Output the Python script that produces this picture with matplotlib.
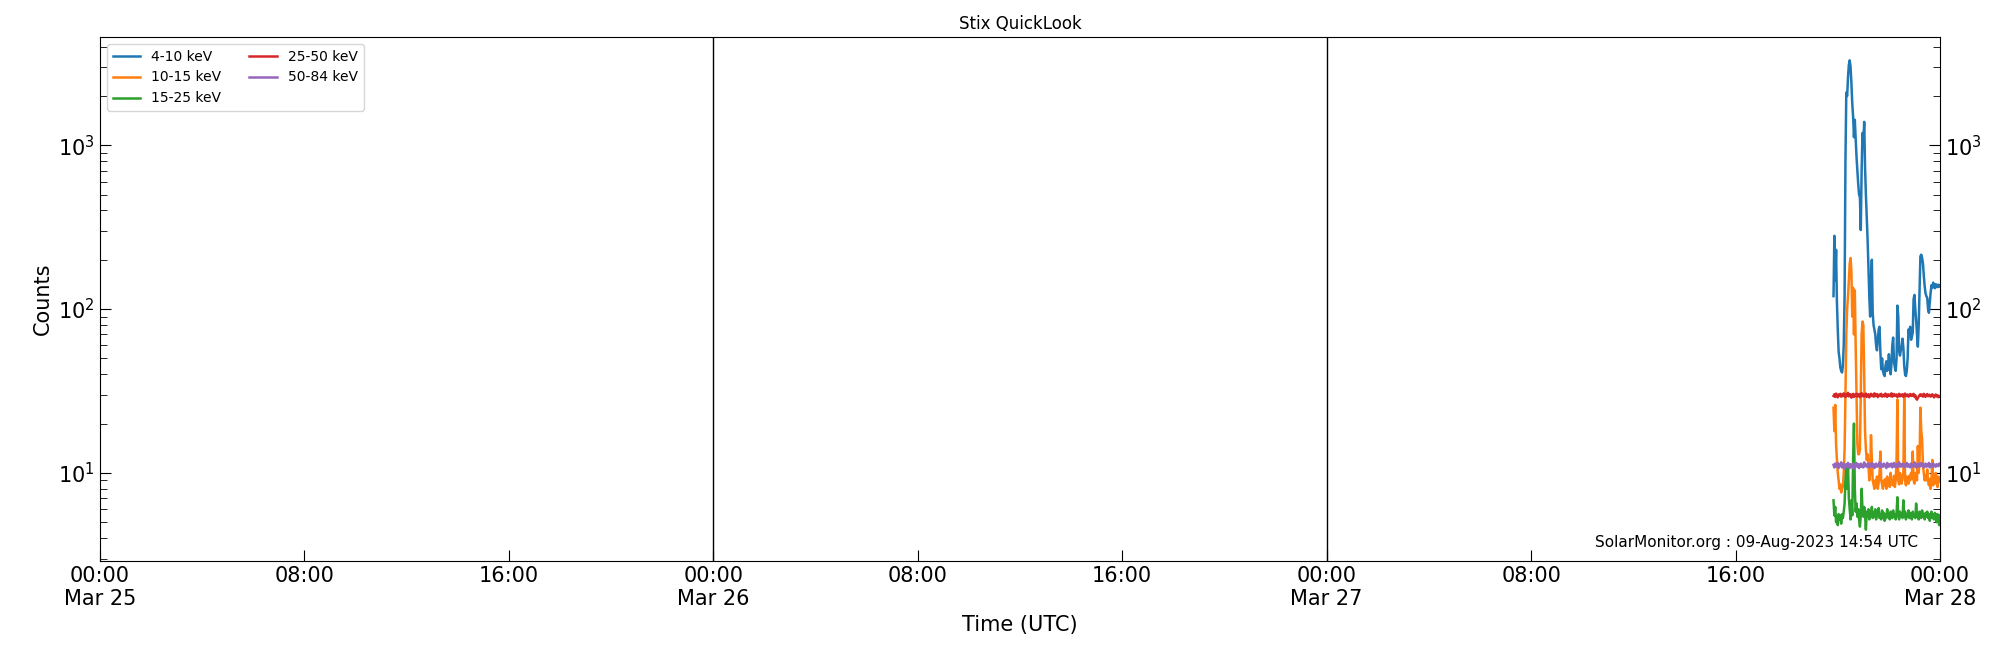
import numpy as np
import pandas as pd
import matplotlib
matplotlib.use("Agg")
import matplotlib.pyplot as plt
import matplotlib.dates as mdates

# samples every 2 min starting 2023-03-27 19:50 UTC
start_time = "2023-03-27 19:50"
step_minutes = 2

counts_4_10 = [
    120, 280, 150, 230, 110, 75, 55, 50, 44, 42,
    41, 45, 60, 120, 800, 2100, 2000, 2600, 3100, 3300,
    3000, 2400, 1800, 1500, 1120, 1430, 1100, 850, 700, 580,
    500, 480, 304, 700, 1190, 1000, 1390, 740, 500, 365,
    265, 180, 120, 90, 150, 200, 95, 80, 75, 70,
    60, 56, 65, 75, 78, 55, 43, 50, 42, 40,
    39, 45, 48, 42, 45, 53, 44, 40, 46, 60,
    67, 48, 44, 42, 50, 105, 90, 55, 52, 56,
    60, 66, 58, 45, 40, 39, 42, 50, 75, 70,
    78, 65, 68, 72, 115, 122, 100, 85, 70, 59,
    80, 130, 210, 215, 205, 190, 160, 138, 125, 120,
    117, 100, 95, 110, 126, 140, 135, 145, 138, 134,
    142, 140, 136, 141, 137, 139,
]

counts_10_15 = [
    25, 18, 26, 15, 12, 10, 9, 8, 8.5, 7.6,
    8, 8.2, 10, 14, 30, 70, 100, 120, 150, 190,
    205, 170, 90, 135, 70, 130, 60, 30, 15, 13,
    13, 14, 30, 70, 84, 80, 40, 18, 14, 12,
    13, 11, 9, 10, 17, 12, 9, 8.5, 8, 9,
    8.2, 9.5, 8, 8.8, 10, 13.5, 9, 8.5, 8, 9,
    8.4, 9.2, 8, 9.5, 8.6, 9, 8.2, 10, 8.5, 9,
    8.4, 9.6, 8.2, 9, 12, 28, 9, 8.5, 10, 9,
    8.6, 9.4, 10, 29, 9, 8.4, 9.5, 9, 8.6, 9.6,
    9, 10, 9.2, 13.5, 9, 8.6, 10, 9.4, 9, 14.6,
    10, 12, 25, 18, 16, 11, 10, 9, 9.6, 9,
    10.5, 9, 8.4, 9.2, 8, 9, 12, 8.4, 9.4, 8.6,
    10, 9, 8.2, 9.5, 8.8, 9.2,
]

counts_15_25 = [
    6.8, 5.5, 6.2, 5.0, 5.4, 4.8, 5.6, 5.2, 5.5, 4.9,
    5.6, 5.3, 5.8, 6.5, 9, 10.5, 8, 11, 7, 6,
    5.2, 6.8, 5.5, 12, 20, 8, 5.8, 6.5, 5.4, 6,
    5.2, 4.7, 5.5, 8, 6, 5.4, 6.2, 5.6, 4.5, 5.8,
    5.4, 6, 5.2, 5.8, 5.5, 6.2, 5.3, 5.7, 5.4, 6,
    5.2, 5.8, 5.5, 6.1, 5.3, 5.6, 5.2, 5.9, 5.4, 5.7,
    5.1, 5.6, 5.3, 6, 5.4, 5.6, 5.2, 5.8, 5.5, 5.3,
    5.9, 5.4, 5.6, 5.2, 5.7, 7.1, 5.5, 5.2, 5.8, 5.4,
    5.6, 5.3, 6.8, 5.4, 5.8, 5.2, 5.6, 5.4, 5.9, 5.3,
    5.7, 5.5, 5.2, 5.8, 5.4, 5.6, 5.3, 6.5, 5.4, 5.7,
    5.2, 5.8, 5.5, 5.3, 5.9, 5.4, 5.6, 5.2, 5.7, 5.4,
    5.8, 5.3, 5.6, 5.1, 5.5, 5.8, 5.3, 5.6, 5.2, 5.7,
    5.4, 5.0, 5.6, 5.3, 4.8, 5.5,
]

counts_25_50 = [
    29.5, 30.2, 29.1, 30.5, 29.8, 28.9, 30.1, 29.6, 30.4, 29.2,
    30.0, 29.4, 30.6, 29.7, 29.0, 30.3, 29.5, 30.8, 29.3, 29.9,
    30.2, 28.8, 29.7, 30.4, 29.1, 30.0, 29.6, 30.5, 29.2, 29.8,
    30.3, 29.0, 29.6, 30.7, 29.4, 30.1, 29.3, 29.9, 30.5, 29.1,
    29.7, 30.2, 28.9, 29.8, 30.4, 29.5, 30.0, 29.2, 30.6, 29.4,
    29.9, 30.3, 29.0, 29.7, 30.1, 29.5, 30.4, 29.2, 29.8, 30.0,
    29.3, 30.5, 29.6, 29.1, 30.2, 29.7, 30.0, 29.4, 30.6, 29.2,
    29.9, 30.3, 29.5, 29.8, 30.1, 29.0, 29.6, 30.4, 29.3, 30.0,
    29.7, 30.2, 29.1, 29.9, 30.5, 29.4, 29.8, 30.1, 29.2, 29.7,
    30.3, 29.5, 30.0, 29.6, 30.4, 29.1, 29.8, 28.4, 28.0, 28.6,
    29.3, 29.8, 30.2, 29.5, 30.0, 29.2, 30.4, 29.7, 29.1, 29.9,
    30.3, 29.4, 29.8, 30.0, 29.2, 29.6, 30.2, 29.5, 28.9, 29.7,
    30.1, 29.3, 29.8, 29.0, 29.5, 29.2,
]

counts_50_84 = [
    11.2, 10.8, 11.4, 10.9, 11.1, 11.5, 10.7, 11.3, 11.0, 11.6,
    10.8, 11.2, 11.4, 10.6, 11.1, 11.3, 10.9, 11.5, 11.0, 10.7,
    11.3, 11.1, 10.8, 11.4, 10.6, 11.2, 11.0, 11.5, 10.9, 11.3,
    10.7, 11.1, 11.4, 10.9, 11.2, 10.8, 11.6, 11.0, 11.3, 10.9,
    11.1, 11.4, 10.8, 11.2, 11.0, 11.5, 10.9, 11.3, 10.7, 11.1,
    11.4, 10.9, 11.2, 11.0, 11.6, 10.8, 11.3, 11.1, 10.9, 11.4,
    11.0, 11.2, 10.7, 11.5, 11.1, 10.9, 11.3, 11.0, 11.4, 10.8,
    11.2, 11.5, 10.9, 11.1, 11.3, 10.8, 11.2, 11.6, 11.0, 10.9,
    11.3, 11.1, 11.4, 10.8, 11.2, 11.0, 11.5, 10.9, 11.3, 11.1,
    10.8, 11.4, 11.0, 11.2, 10.9, 11.6, 11.1, 10.8, 11.3, 11.0,
    11.4, 10.9, 11.2, 11.5, 11.0, 11.3, 10.8, 11.1, 11.4, 10.9,
    11.2, 11.0, 11.5, 10.8, 11.3, 11.1, 10.9, 11.4, 11.0, 11.2,
    10.9, 11.3, 11.1, 11.0, 11.4, 11.2,
]

bands = ["4-10 keV", "10-15 keV", "15-25 keV", "25-50 keV", "50-84 keV"]
series = [counts_4_10, counts_10_15, counts_15_25, counts_25_50, counts_50_84]

times = pd.Timestamp(start_time) + pd.to_timedelta(np.arange(len(counts_4_10)) * step_minutes, unit="min")

plot_start = pd.Timestamp("2023-03-25 00:00")
plot_end = pd.Timestamp("2023-03-28 00:00")
day_lines = [pd.Timestamp("2023-03-26 00:00"), pd.Timestamp("2023-03-27 00:00")]

fig = plt.figure(figsize=(20, 6.5), dpi=100)
ax = fig.add_subplot(111)
fig.subplots_adjust(left=0.05, right=0.97, bottom=0.137, top=0.943)

for label, vals in zip(bands, series):
    ax.plot(times, vals, lw=1.8, label=label)

for d in day_lines:
    ax.axvline(d, color="black", lw=1)

ax.set_yscale("log")
ax.set_ylim(2.9, 4580)
ax.set_xlim(plot_start, plot_end)


def fmt_time(x, pos=None):
    t = mdates.num2date(x)
    if t.hour == 0:
        return t.strftime("%H:%M\n%b %d")
    return t.strftime("%H:%M")


ax.xaxis.set_major_locator(mdates.HourLocator(byhour=[0, 8, 16]))
ax.xaxis.set_major_formatter(plt.FuncFormatter(fmt_time))

ax.tick_params(which="both", direction="in", right=True, labelright=True, labelsize=15)
ax.tick_params(which="major", length=8)
ax.tick_params(which="minor", length=5)

ax.set_title("Stix QuickLook", fontsize=12)
ax.set_xlabel("Time (UTC)", fontsize=15)
ax.set_ylabel("Counts", fontsize=15)
ax.legend(loc="upper left", ncol=2, fontsize=10)
ax.text(0.988, 0.02, "SolarMonitor.org : 09-Aug-2023 14:54 UTC", transform=ax.transAxes,
        ha="right", va="bottom", fontsize=11)

fig.savefig("out.png", dpi=100)
